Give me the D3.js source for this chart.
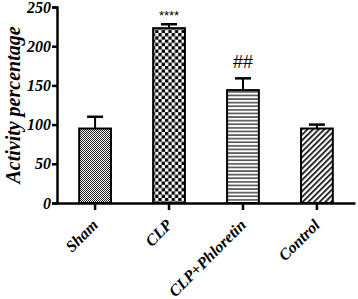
<!DOCTYPE html>
<html>
<head>
<meta charset="utf-8">
<script src="https://cdn.jsdelivr.net/npm/d3@7"></script>
<style>
  body { margin: 0; background: #fff; }
  text { font-family: "Liberation Serif", "DejaVu Serif", serif; font-weight: bold; font-style: italic; }
</style>
</head>
<body>
<div id="chart"></div>
<script>
// Data
const groups = ["Sham", "CLP", "CLP+Phloretin", "Control"];
const means = [95, 223, 144, 95];
const errors = [15, 5, 15, 5];
const marks = ["", "****", "##", ""];
const yTicks = [0, 50, 100, 150, 200, 250];

const width = 358;
const height = 299;
const margin = { top: 7, right: 3, bottom: 96, left: 57 };

const svg = d3.select("#chart")
    .append("svg")
    .attr("width", width)
    .attr("height", height);

// Fill patterns
const defs = svg.append("defs");

const fine = defs.append("pattern").attr("id", "fine")
    .attr("patternUnits", "userSpaceOnUse").attr("width", 2).attr("height", 2);
fine.append("rect").attr("width", 2).attr("height", 2).attr("fill", "#fff");
fine.append("rect").attr("width", 1).attr("height", 1).attr("fill", "#222");
fine.append("rect").attr("x", 1).attr("y", 1).attr("width", 1).attr("height", 1).attr("fill", "#222");

const checker = defs.append("pattern").attr("id", "checker")
    .attr("patternUnits", "userSpaceOnUse").attr("width", 6.6).attr("height", 6.6);
checker.append("rect").attr("width", 6.6).attr("height", 6.6).attr("fill", "#fff");
checker.append("rect").attr("width", 3.3).attr("height", 3.3).attr("fill", "#000");
checker.append("rect").attr("x", 3.3).attr("y", 3.3).attr("width", 3.3).attr("height", 3.3).attr("fill", "#000");

const hlines = defs.append("pattern").attr("id", "hlines")
    .attr("patternUnits", "userSpaceOnUse").attr("width", 4).attr("height", 3.6);
hlines.append("rect").attr("width", 4).attr("height", 3.6).attr("fill", "#fff");
hlines.append("rect").attr("y", 1.3).attr("width", 4).attr("height", 1.1).attr("fill", "#000");

const diag = defs.append("pattern").attr("id", "diag")
    .attr("patternUnits", "userSpaceOnUse").attr("width", 4).attr("height", 4)
    .attr("patternTransform", "rotate(45)");
diag.append("rect").attr("width", 4).attr("height", 4).attr("fill", "#fff");
diag.append("rect").attr("width", 1.6).attr("height", 4).attr("fill", "#000");

const fills = ["url(#fine)", "url(#checker)", "url(#hlines)", "url(#diag)"];

// Scales
const x = d3.scaleBand()
    .domain(groups)
    .range([margin.left, width - margin.right])
    .paddingInner(0.57)
    .paddingOuter(0.3);

const y = d3.scaleLinear()
    .domain([0, 250])
    .range([height - margin.bottom, margin.top]);

const g = svg.append("g");

// Error bars (behind bars)
groups.forEach((grp, i) => {
    const cx = x(grp) + x.bandwidth() / 2;
    g.append("line")
        .attr("x1", cx).attr("x2", cx)
        .attr("y1", y(means[i])).attr("y2", y(means[i] + errors[i]))
        .attr("stroke", "#000").attr("stroke-width", 2);
    g.append("line")
        .attr("x1", cx - 8).attr("x2", cx + 8)
        .attr("y1", y(means[i] + errors[i])).attr("y2", y(means[i] + errors[i]))
        .attr("stroke", "#000").attr("stroke-width", 2.5);
});

// Bars
g.selectAll(".bar")
    .data(groups)
    .enter()
    .append("rect")
    .attr("x", d => x(d))
    .attr("y", (d, i) => y(means[i]))
    .attr("width", x.bandwidth())
    .attr("height", (d, i) => y(0) - y(means[i]))
    .attr("fill", (d, i) => fills[i])
    .attr("stroke", "#000")
    .attr("stroke-width", 2);

// Significance marks
g.selectAll(".mark")
    .data(groups)
    .enter()
    .append("text")
    .attr("x", d => x(d) + x.bandwidth() / 2)
    .attr("y", (d, i) => y(means[i] + errors[i]) - (i === 1 ? 4 : 10))
    .attr("text-anchor", "middle")
    .style("font-family", "Arial, 'Liberation Sans', sans-serif")
    .style("font-style", "normal")
    .style("font-weight", "normal")
    .style("font-size", (d, i) => i === 1 ? "13px" : "18px")
    .text((d, i) => marks[i]);

// Y axis
const yAxis = svg.append("g")
    .attr("transform", `translate(${margin.left},0)`)
    .call(d3.axisLeft(y).tickValues(yTicks).tickSize(5).tickPadding(1));
yAxis.select(".domain").attr("stroke-width", 2.5);
yAxis.selectAll(".tick line").attr("stroke-width", 2.5);
yAxis.selectAll(".tick text")
    .style("font-family", "'Liberation Serif', serif")
    .style("font-size", "16px")
    .attr("fill", "#000");

// X axis
const xAxis = svg.append("g")
    .attr("transform", `translate(0,${y(0)})`)
    .call(d3.axisBottom(x).tickSize(7).tickSizeOuter(0));
xAxis.select(".domain").attr("stroke-width", 2.5);
xAxis.selectAll(".tick line").attr("stroke-width", 2.5);
xAxis.selectAll(".tick text").remove();

// Rotated category labels
svg.selectAll(".xlabel")
    .data(groups)
    .enter()
    .append("text")
    .attr("class", "xlabel")
    .attr("x", d => x(d) + x.bandwidth() / 2 + 4)
    .attr("y", y(0) + 23)
    .attr("transform", d => `rotate(-45,${x(d) + x.bandwidth() / 2 + 4},${y(0) + 23})`)
    .attr("text-anchor", "end")
    .style("font-family", "'Liberation Serif', serif")
    .style("font-size", "16px")
    .attr("fill", "#000")
    .text(d => d);

// Y axis title
svg.append("text")
    .attr("transform", `translate(20,${(margin.top + y(0)) / 2}) rotate(-90)`)
    .attr("text-anchor", "middle")
    .style("font-size", "20px")
    .text("Activity percentage");
</script>
</body>
</html>
